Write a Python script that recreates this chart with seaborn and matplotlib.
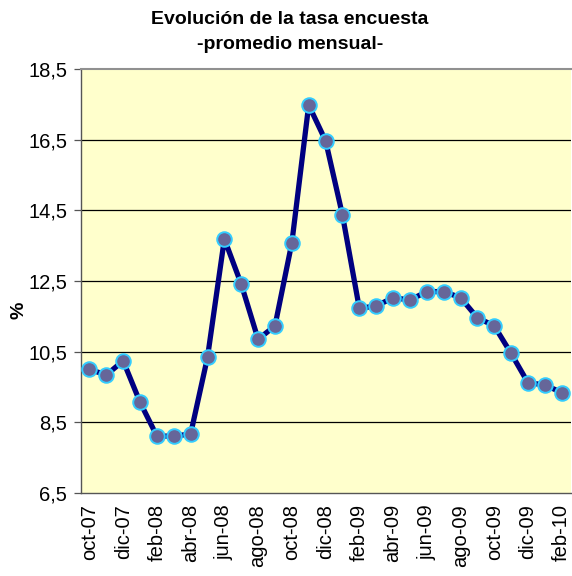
import matplotlib
matplotlib.use("Agg")
import matplotlib.pyplot as plt
import seaborn as sns
import pandas as pd
import numpy as np

months = ["oct-07", "nov-07", "dic-07", "ene-08", "feb-08", "mar-08", "abr-08", "may-08",
          "jun-08", "jul-08", "ago-08", "sep-08", "oct-08", "nov-08", "dic-08", "ene-09",
          "feb-09", "mar-09", "abr-09", "may-09", "jun-09", "jul-09", "ago-09", "sep-09",
          "oct-09", "nov-09", "dic-09", "ene-10", "feb-10"]
tasa = [10.0, 9.84, 10.24, 9.07, 8.11, 8.11, 8.17, 10.34, 13.69, 12.41, 10.85, 11.23,
        13.58, 17.48, 16.47, 14.37, 11.73, 11.79, 12.03, 11.96, 12.2, 12.2, 12.03, 11.46,
        11.23, 10.45, 9.62, 9.56, 9.34]
yticks = [6.5, 8.5, 10.5, 12.5, 14.5, 16.5, 18.5]

df = pd.DataFrame({"idx": np.arange(len(months)), "mes": months, "tasa": tasa})

sns.set_theme(style="white")
plt.rcParams['font.family'] = ['Liberation Sans', 'DejaVu Sans']
plt.rcParams['text.color'] = 'black'
plt.rcParams['xtick.color'] = 'black'
plt.rcParams['ytick.color'] = 'black'
plt.rcParams['axes.labelcolor'] = 'black'

fig = plt.figure(figsize=(5.72, 5.76), dpi=100)
ax = fig.add_axes([81/572, 83/576, 490/572, 424/576])
ax.set_facecolor("#FFFFCC")

sns.lineplot(data=df, x="idx", y="tasa", ax=ax, color="#000080", linewidth=3.8,
             marker="o", markersize=10.5, markerfacecolor="#666699",
             markeredgecolor="#33CCFF", markeredgewidth=1.4, zorder=3)

ax.set_ylim(6.5, 18.5)
ax.set_yticks(yticks)
ax.set_yticklabels([f"{v:.1f}".replace(".", ",") for v in yticks], fontsize=14.5)
for v in yticks[1:-1]:
    ax.axhline(v, color="black", linewidth=0.9, zorder=1)

ax.set_xlim(-0.5, 28.55)
lab_pos = list(range(0, len(months), 2))
ax.set_xticks(lab_pos)
ax.set_xticklabels([months[i] for i in lab_pos], rotation=90, fontsize=14.5)
ax.set_xticks([p - 0.5 for p in lab_pos], minor=True)
ax.tick_params(axis="x", which="major", length=0, pad=8)
ax.tick_params(axis="x", which="minor", length=5, width=0.9, color="#555555", direction="out")
ax.tick_params(axis="y", length=5, width=0.9, color="#555555", labelcolor="black",
               direction="out", left=True, pad=5)

for s in ["left", "bottom"]:
    ax.spines[s].set_color("#555555")
    ax.spines[s].set_linewidth(1.0)
ax.spines["top"].set_color("#909090")
ax.spines["top"].set_linewidth(1.5)
ax.spines["right"].set_visible(False)

ax.set_xlabel("")
ax.set_ylabel("%", fontsize=14, fontweight="bold")
ax.yaxis.set_label_coords(-54/490, 0.43)

fig.text(0.507, 0.967, "Evolución de la tasa encuesta", ha="center", va="center",
         fontsize=14, fontweight="bold")
fig.text(0.507, 0.922, "-promedio mensual-", ha="center", va="center",
         fontsize=14, fontweight="bold")

fig.savefig("out.png", dpi=100)
